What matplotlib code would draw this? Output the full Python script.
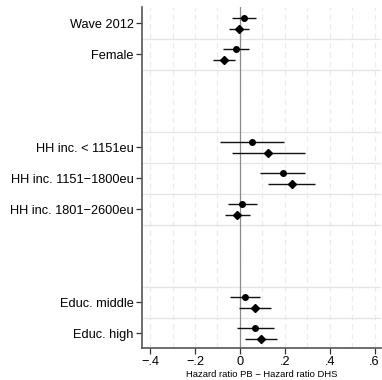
import matplotlib
matplotlib.use("Agg")
import matplotlib.pyplot as plt
import numpy as np

plt.rcParams['font.family'] = ['Liberation Sans', 'DejaVu Sans']

# Row labels (slot number from the top, label)
labels = ["Wave 2012", "Female", "HH inc. < 1151eu", "HH inc. 1151\u22121800eu",
          "HH inc. 1801\u22122600eu", "Educ. middle", "Educ. high"]
slots = [1, 2, 5, 6, 7, 10, 11]

# First model (circles): estimate, lower CI, upper CI
est_a = [0.019, -0.019, 0.055, 0.190, 0.010, 0.022, 0.068]
lo_a = [-0.034, -0.076, -0.087, 0.089, -0.055, -0.046, -0.012]
hi_a = [0.071, 0.039, 0.197, 0.290, 0.076, 0.090, 0.150]

# Second model (diamonds)
est_b = [-0.006, -0.073, 0.127, 0.230, -0.013, 0.068, 0.095]
lo_b = [-0.047, -0.119, -0.034, 0.126, -0.068, -0.003, 0.024]
hi_b = [0.040, -0.024, 0.290, 0.335, 0.043, 0.138, 0.166]

xticks = [-0.4, -0.2, 0.0, 0.2, 0.4, 0.6]
xticklabels = ["\u2212.4", "\u2212.2", "0", ".2", ".4", ".6"]
separators = [1.5, 2.5, 4.5, 5.5, 6.5, 7.5, 9.5, 10.5]

fig = plt.figure(figsize=(3.82, 3.80), dpi=100)
ax = fig.add_axes([0.372, 0.0842, 0.626, 0.8974])

ax.set_xlim(-0.436, 0.63)
ax.set_ylim(11.47, 0.474)

# dashed vertical grid every 0.1
for gx in np.arange(-0.4, 0.61, 0.1):
    ax.axvline(gx, color="#ececec", lw=0.9, ls=(0, (4.5, 3)), zorder=0)
for sy in separators:
    ax.axhline(sy, color="#e4e4e4", lw=0.9, zorder=0.5)
ax.axvline(0, color="#8c8c8c", lw=0.9, zorder=1)

off = 0.17
ya = np.array(slots) - off
yb = np.array(slots) + off
ax.hlines(ya, lo_a, hi_a, color="#111111", lw=1.0, zorder=2)
ax.hlines(yb, lo_b, hi_b, color="#111111", lw=1.0, zorder=2)
ax.plot(est_a, ya, "o", color="black", ms=4.0, zorder=3)
ax.plot(est_b, yb, "D", color="black", ms=3.8, zorder=3)

ax.set_yticks(slots)
ax.set_yticklabels(labels, fontsize=9.2)
ax.set_xticks(xticks)
ax.set_xticklabels(xticklabels, fontsize=9.2)
ax.set_xlabel("Hazard ratio PB \u2212 Hazard ratio DHS", fontsize=6.8, labelpad=1)

for s in ["top", "right"]:
    ax.spines[s].set_visible(False)
for s in ["left", "bottom"]:
    ax.spines[s].set_color("#555555")
    ax.spines[s].set_linewidth(1.2)
ax.tick_params(axis="both", color="#333333", length=4, width=0.9, pad=2)

fig.savefig("out.png", dpi=100)
